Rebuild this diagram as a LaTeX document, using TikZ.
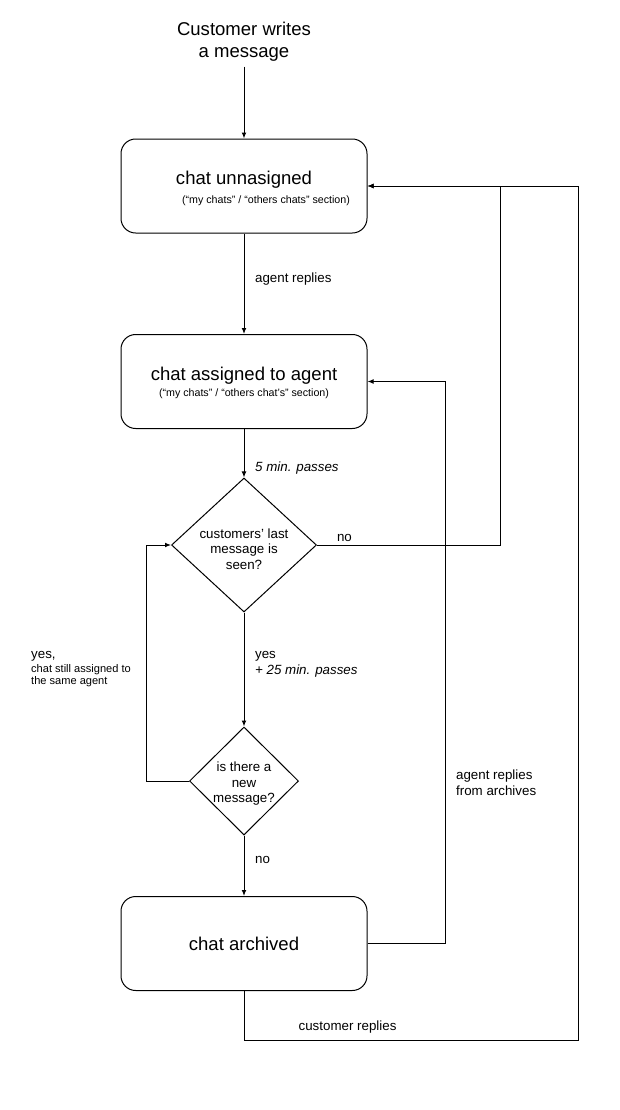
\documentclass[tikz,border=0pt]{standalone}
\usepackage{fontspec}
\setmainfont{Liberation Sans}
\usetikzlibrary{arrows.meta,shapes.geometric}

\begin{document}
\begin{tikzpicture}[x=0.75pt,y=-0.75pt,>={Latex[length=4.5pt,width=3.6pt]},line width=0.75pt,
  state/.style={draw, rounded corners=11pt, minimum width=184.5pt, minimum height=70.5pt, align=center, font=\fontsize{13.9}{17}\selectfont},
  decision/.style={draw, diamond, inner sep=-5pt, align=center, font=\fontsize{10}{11.6}\selectfont},
  lbl/.style={font=\fontsize{10}{12}\selectfont, inner sep=2pt}]
\useasboundingbox (0,0) rectangle (620,1110);
\node[align=center, font=\fontsize{13.9}{16.5}\selectfont] (start) at (244,42) {Customer writes\\a message};
\node[state] (unassigned) at (244,186) {\rule{0pt}{14pt}chat unnasigned\\[-2.5pt]{\fontsize{8}{10}\selectfont\hspace*{33pt}(“my chats” / “others chats” section)}};
\node[state] (assigned) at (244,381.5) {\rule{0pt}{12.4pt}chat assigned to agent\\[-5pt]{\fontsize{8}{10}\selectfont(“my chats” / “others chat’s” section)}};
\node[decision, minimum width=108.75pt, minimum height=100.5pt] (seen) at (244,545) {\rule{0pt}{13.2pt}customers’ last\\message is\\seen?};
\node[decision, minimum width=81.75pt, minimum height=81pt] (newmsg) at (244,781) {\rule{0pt}{11.7pt}is there a\\new\\message?};
\node[state] (archived) at (244,943.5) {chat archived};
\coordinate (nox) at (500,0);
\coordinate (loopx) at (146,0);
\coordinate (replyx) at (445,0);
\coordinate (custx) at (578,0);
\coordinate (bottom) at (0,1040);

\draw[->] (start) -- (unassigned);
\draw[->] (unassigned) -- node[lbl, right, pos=0.45, xshift=6pt] {agent replies} (assigned);
\draw[->] (assigned) -- node[lbl, right, pos=0.8, xshift=6pt] {\itshape 5 min. passes} (seen);
\draw[->] (seen.east) -- node[lbl, above, pos=0.15] {no} (seen.east -| nox) |- (unassigned.east);
\draw[->] (seen) -- node[lbl, right, align=left, pos=0.45, xshift=6pt] {yes\\\itshape + 25 min. passes} (newmsg);
\draw[->] (newmsg.west) -- (newmsg.west -| loopx)
  -- node[lbl, left, align=left, pos=0.475, xshift=-9pt, font=\fontsize{8.3}{9}\selectfont] {{\fontsize{10}{12}\selectfont yes,}\\[1.5pt]chat still assigned to\\the same agent} (seen.west -| loopx)
  -- (seen.west);
\draw[->] (newmsg) -- node[lbl, right, pos=0.4, xshift=6pt] {no} (archived);
\draw[->] (archived.east) -- (archived.east -| replyx)
  -- node[lbl, right, align=left, pos=0.286, xshift=6pt] {agent replies\\from archives} (assigned.east -| replyx)
  -- (assigned.east);
\draw[->] (archived.south) -- (archived.south |- bottom)
  -- node[lbl, above, pos=0.31, yshift=3pt] {customer replies} (custx |- bottom)
  -- (custx |- unassigned.east) -- (unassigned.east);
\end{tikzpicture}
\end{document}
